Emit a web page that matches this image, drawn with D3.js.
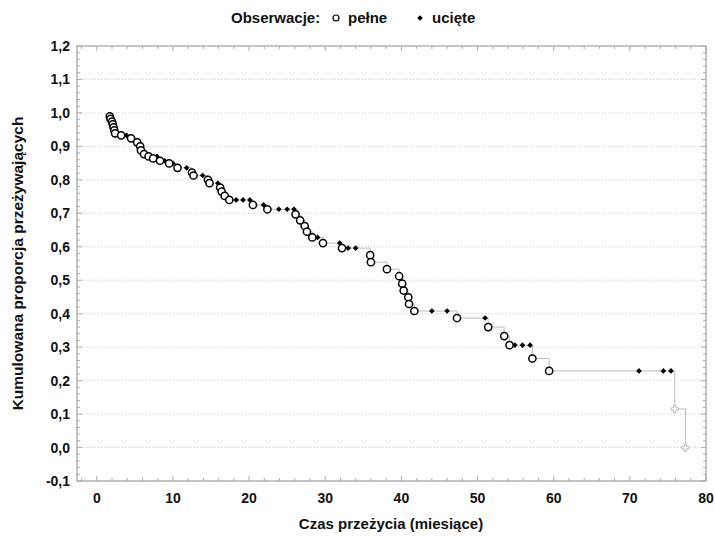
<!DOCTYPE html>
<html>
<head>
<meta charset="utf-8">
<script src="https://cdn.jsdelivr.net/npm/d3@7"></script>
<style>
  body { margin: 0; background: #fff; }
  text { font-family: "Liberation Sans", Arial, sans-serif; font-weight: bold; fill: #111; }
</style>
</head>
<body>
<svg id="chart" width="715" height="536"></svg>
<script>
// obserwacje pełne (zdarzenia) - czas, proporcja
let czasPelne = [1.7, 1.8, 2.0, 2.1, 2.2, 2.3, 2.4, 3.2, 4.5, 5.3, 5.7, 5.8, 6.2, 6.8, 7.4, 8.3, 9.5, 10.6,
  12.5, 12.7, 14.6, 14.8, 16.2, 16.4, 16.8, 17.4, 20.5, 22.4, 26.1, 26.7, 27.3, 27.6, 28.3, 29.7, 32.2,
  35.9, 36.0, 38.1, 39.7, 40.1, 40.3, 40.9, 41.0, 41.7, 47.3, 51.4, 53.5, 54.2, 57.2, 59.4]
let propPelne = [0.990, 0.982, 0.974, 0.966, 0.957, 0.948, 0.939, 0.933, 0.924, 0.912, 0.900, 0.888, 0.877, 0.870, 0.864, 0.857, 0.849, 0.836,
  0.822, 0.813, 0.800, 0.790, 0.777, 0.765, 0.752, 0.740, 0.725, 0.712, 0.697, 0.679, 0.662, 0.645, 0.628, 0.611, 0.596,
  0.575, 0.554, 0.533, 0.512, 0.490, 0.469, 0.449, 0.429, 0.408, 0.387, 0.360, 0.333, 0.306, 0.266, 0.229]

// obserwacje ucięte
let czasUciete = [3.9, 7.9, 8.9, 10.0, 11.8, 13.9, 15.9, 18.3, 19.2, 20.1, 21.9, 23.9, 25.0, 25.9, 29.0, 31.9,
  33.0, 34.0, 44.0, 46.0, 51.0, 54.9, 55.9, 56.9, 71.2, 74.4, 75.4]
let propUciete = [0.933, 0.870, 0.857, 0.849, 0.836, 0.813, 0.790, 0.740, 0.740, 0.740, 0.725, 0.712, 0.712, 0.712, 0.628, 0.611,
  0.596, 0.596, 0.408, 0.408, 0.387, 0.306, 0.306, 0.306, 0.229, 0.229, 0.229]

// ostatnie zdarzenia (jasne znaczniki)
let czasKoniec = [75.9, 77.3]
let propKoniec = [0.115, 0.0]

let xTicks = [0, 10, 20, 30, 40, 50, 60, 70, 80]
let yTicks = [-0.1, 0.0, 0.1, 0.2, 0.3, 0.4, 0.5, 0.6, 0.7, 0.8, 0.9, 1.0, 1.1, 1.2]

let svg = d3.select("#chart")
let mLeft = 77, mRight = 706, mTop = 46, mBottom = 481

let x = d3.scaleLinear().domain([-2.6, 80]).range([mLeft, mRight])
let y = d3.scaleLinear().domain([-0.1, 1.2]).range([mBottom, mTop])
let fmt = v => d3.format(".1f")(v).replace(".", ",").replace("\u2212", "-")

// siatka pozioma
svg.append("g").selectAll("line")
  .data(yTicks.slice(1, -1))
  .join("line")
  .attr("x1", mLeft).attr("x2", mRight)
  .attr("y1", d => y(d)).attr("y2", d => y(d))
  .attr("stroke", "#c8c8c8").attr("stroke-dasharray", "1,2")

// ramka
svg.append("rect")
  .attr("x", mLeft).attr("y", mTop)
  .attr("width", mRight - mLeft).attr("height", mBottom - mTop)
  .attr("fill", "none").attr("stroke", "#8c8c8c")

// znaczniki osi (do środka, na wszystkich bokach)
let xMinor = d3.range(-2, 80.1, 2)
let yMinor = d3.range(-0.1, 1.2001, 0.02)
let tg = svg.append("g").attr("stroke", "#aaa")
tg.selectAll(".xb").data(xMinor).join("line")
  .attr("x1", d => x(d)).attr("x2", d => x(d))
  .attr("y1", mBottom).attr("y2", d => mBottom - (Math.abs(d % 10) < 0.01 ? 5 : 3))
tg.selectAll(".xt").data(xMinor).join("line")
  .attr("x1", d => x(d)).attr("x2", d => x(d))
  .attr("y1", mTop).attr("y2", d => mTop + (Math.abs(d % 10) < 0.01 ? 5 : 3))
tg.selectAll(".yl").data(yMinor).join("line")
  .attr("y1", d => y(d)).attr("y2", d => y(d))
  .attr("x1", mLeft).attr("x2", (d, i) => mLeft + (i % 5 == 0 ? 5 : 3))
tg.selectAll(".yr").data(yMinor).join("line")
  .attr("y1", d => y(d)).attr("y2", d => y(d))
  .attr("x1", mRight).attr("x2", (d, i) => mRight - (i % 5 == 0 ? 5 : 3))

// etykiety osi
svg.append("g").selectAll("text").data(yTicks).join("text")
  .attr("x", mLeft - 7).attr("y", d => y(d) + 5)
  .attr("text-anchor", "end").attr("font-size", 14)
  .text(d => fmt(d))
svg.append("g").selectAll("text").data(xTicks).join("text")
  .attr("x", d => x(d)).attr("y", mBottom + 22)
  .attr("text-anchor", "middle").attr("font-size", 14)
  .text(d => d)

svg.append("text")
  .attr("transform", "translate(23," + ((mTop + mBottom) / 2) + ") rotate(-90)")
  .attr("text-anchor", "middle").attr("font-size", 15.5)
  .text("Kumulowana proporcja przeżywających")
svg.append("text")
  .attr("x", 391).attr("y", 529)
  .attr("text-anchor", "middle").attr("font-size", 15)
  .text("Czas przeżycia (miesiące)")

// krzywa Kaplana-Meiera
let wszystkie = czasPelne.map((t, i) => [t, propPelne[i]])
  .concat(czasUciete.map((t, i) => [t, propUciete[i]]))
  .concat(czasKoniec.map((t, i) => [t, propKoniec[i]]))
  .sort((a, b) => a[0] - b[0])

let line = d3.line().x(d => x(d[0])).y(d => y(d[1])).curve(d3.curveStepAfter)
svg.append("path")
  .datum(wszystkie)
  .attr("d", line)
  .attr("fill", "none").attr("stroke", "#bdbdbd").attr("stroke-width", 1)

// końcowe znaczniki
let kg = svg.append("g").attr("stroke", "#bbb").attr("stroke-width", 1)
czasKoniec.forEach(function(t, i) {
  kg.append("path")
    .attr("d", d3.symbol().type(d3.symbolCross).size(30)())
    .attr("transform", "translate(" + x(t) + "," + y(propKoniec[i]) + ")")
    .attr("fill", "#fff")
})

// ucięte
let romb = d3.symbol().type(d3.symbolSquare).size(16)()
svg.append("g").selectAll("path")
  .data(czasUciete)
  .join("path")
  .attr("d", romb)
  .attr("transform", (d, i) => "translate(" + x(d) + "," + y(propUciete[i]) + ") rotate(45)")
  .attr("fill", "#000")

// pełne
svg.append("g").selectAll("circle")
  .data(czasPelne)
  .join("circle")
  .attr("cx", d => x(d)).attr("cy", (d, i) => y(propPelne[i]))
  .attr("r", 3.6)
  .attr("fill", "#fff").attr("stroke", "#000").attr("stroke-width", 1.5)

// legenda
svg.append("text").attr("x", 231).attr("y", 23).attr("font-size", 15).text("Obserwacje:")
svg.append("circle").attr("cx", 336).attr("cy", 18).attr("r", 3)
  .attr("fill", "#fff").attr("stroke", "#000").attr("stroke-width", 1.2)
svg.append("text").attr("x", 348).attr("y", 23).attr("font-size", 15).text("pełne")
svg.append("path")
  .attr("d", romb)
  .attr("transform", "translate(420,18) rotate(45)")
svg.append("text").attr("x", 432).attr("y", 23).attr("font-size", 15).text("ucięte")
</script>
</body>
</html>
